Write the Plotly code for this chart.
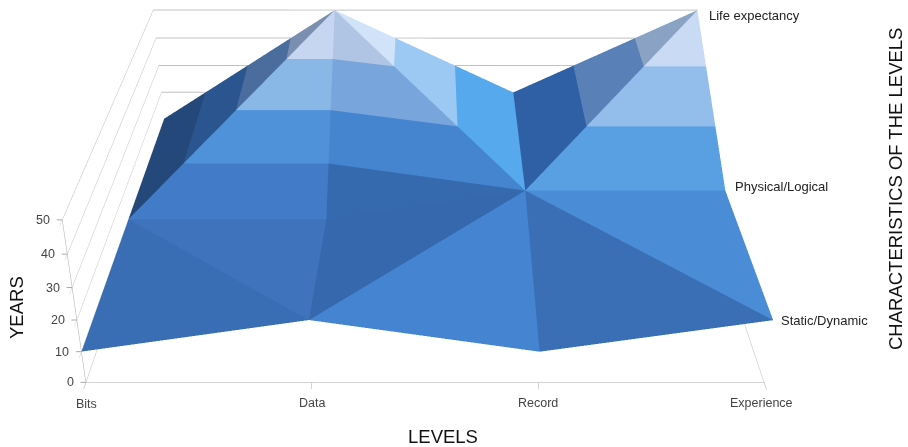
import plotly.graph_objects as go

# Grid of the surface: one row per characteristic, one column per level.
levels = ["Bits", "Data", "Record", "Experience"]
characteristics = ["Static/Dynamic", "Physical/Logical", "Life expectancy"]
static_dynamic = [10, 20, 10, 20]
physical_logical = [10, 10, 20, 20]
life_expectancy = [10, 50, 20, 50]
rows = [static_dynamic, physical_logical, life_expectancy]
year_ticks = [0, 10, 20, 30, 40, 50]
band_edges = [10, 20, 30, 40, 50]

# Facets as (column, row) corners, each with its shade per 10-year band.
facets = [
    ([(0, 0), (1, 0), (0, 1)], ["#3A6EB4"]),
    ([(1, 0), (0, 1), (1, 1)], ["#3F74BC"]),
    ([(1, 0), (2, 0), (2, 1)], ["#4484D0"]),
    ([(1, 0), (1, 1), (2, 1)], ["#3568AC"]),
    ([(2, 0), (2, 1), (3, 0)], ["#3A6FB6"]),
    ([(2, 1), (3, 1), (3, 0)], ["#4A8DD6"]),
    ([(0, 1), (0, 2), (1, 2)], ["#24487A", "#2A558F", "#4A6D9E", "#7A8FB0"]),
    ([(0, 1), (1, 1), (1, 2)], ["#427CC8", "#4F92DA", "#8AB8E6", "#C6D6F0"]),
    ([(1, 1), (1, 2), (2, 1)], ["#356AAF", "#4584CF", "#79A5DD", "#B0C5E4"]),
    ([(1, 2), (2, 2), (2, 1)], ["#55A9EC", "#55A9EC", "#9CC9F4", "#D0E3F8"]),
    ([(2, 2), (2, 1), (3, 2)], ["#2F5FA5", "#2F5FA5", "#5A80B8", "#8AA3C4"]),
    ([(2, 1), (3, 1), (3, 2)], ["#58A0E2", "#58A0E2", "#93BDEB", "#C8DAF4"]),
]


def clip_to_band(points, low, high):
    """Clip a polygon of (x, y, z) points to low <= z <= high."""
    for limit, keep_above in ((low, True), (high, False)):
        kept = []
        for n, p in enumerate(points):
            q = points[(n + 1) % len(points)]
            p_in = p[2] >= limit if keep_above else p[2] <= limit
            q_in = q[2] >= limit if keep_above else q[2] <= limit
            if p_in:
                kept.append(p)
            if p_in != q_in:
                t = (limit - p[2]) / (q[2] - p[2])
                kept.append(tuple(p[a] + t * (q[a] - p[a]) for a in range(3)))
        points = kept
        if not points:
            break
    return points


xs, ys, zs, ii, jj, kk, face_colors = [], [], [], [], [], [], []
for corners, shades in facets:
    tri = [(c, r, rows[r][c]) for c, r in corners]
    for b in range(len(band_edges) - 1):
        poly = clip_to_band(tri, band_edges[b], band_edges[b + 1])
        if len(poly) < 3:
            continue
        base = len(xs)
        for px, py, pz in poly:
            xs.append(px)
            ys.append(py)
            zs.append(pz)
        for n in range(1, len(poly) - 1):
            ii.append(base)
            jj.append(base + n)
            kk.append(base + n + 1)
            face_colors.append(shades[min(b, len(shades) - 1)])

fig = go.Figure(
    go.Mesh3d(
        x=xs, y=ys, z=zs, i=ii, j=jj, k=kk,
        facecolor=face_colors,
        flatshading=True,
        lighting=dict(ambient=1, diffuse=0, specular=0, roughness=1, fresnel=0),
        hoverinfo="skip",
        showscale=False,
    )
)

# Left edge of the floor, which the y axis line does not cover.
fig.add_trace(
    go.Scatter3d(
        x=[0, 0], y=[0, len(rows) - 1], z=[year_ticks[0], year_ticks[0]],
        mode="lines", line=dict(color="#BBBBBB", width=1), hoverinfo="skip",
    )
)

tick_font = dict(family="Liberation Sans", size=12.5, color="#444444")
label_font = dict(family="Liberation Sans", size=13, color="#222222")
title_font = dict(family="Liberation Sans", size=18.5, color="#111111")

# The scene is taller than the window so the lens stays long; only its top shows.
PAGE_W, PAGE_H = 908, 1346

series_nudges = [(6, 0), (8, 4), (10, -5)]
level_nudges = [(1, -22), (0, -20), (0, -20), (-3, -20)]

scene_labels = [
    dict(x=3, y=r, z=rows[r][3], text=characteristics[r], showarrow=False,
         xanchor="left", xshift=series_nudges[r][0], yshift=series_nudges[r][1], font=label_font)
    for r in range(len(rows))
]
scene_labels += [
    dict(x=c, y=0, z=0, text=levels[c], showarrow=False, xshift=level_nudges[c][0],
         yshift=level_nudges[c][1], font=tick_font)
    for c in range(len(levels))
]
# Year labels carry their own short tick mark, drawn as a headless arrow.
scene_labels += [
    dict(x=0, y=0, z=t, text=str(t), showarrow=True, arrowhead=0, arrowwidth=1,
         arrowcolor="#AAAAAA", ax=-19 if t else -15.5, ay=0, startstandoff=5, font=tick_font)
    for t in year_ticks
]


def page_annotation(text, x_px, y_px, angle=0):
    return dict(text=text, xref="paper", yref="paper", x=x_px / PAGE_W, y=1 - y_px / PAGE_H,
                xanchor="center", yanchor="middle", textangle=angle, showarrow=False,
                font=title_font)


fig.update_layout(
    width=PAGE_W,
    height=PAGE_H,
    margin=dict(l=0, r=0, t=0, b=0),
    paper_bgcolor="white",
    showlegend=False,
    scene=dict(
        domain=dict(x=[0, 850 / PAGE_W], y=[0, 1]),
        aspectmode="manual",
        aspectratio=dict(x=0.361, y=0.3444, z=0.0905),
        camera=dict(
            eye=dict(x=0.0005, y=-0.9452, z=0.3721),
            center=dict(x=0, y=-0.1850, z=-0.2326),
            up=dict(x=0, y=0, z=1),
            projection=dict(type="perspective"),
        ),
        xaxis=dict(
            title="", range=[0, 3], tickvals=list(range(4)), showticklabels=False,
            showgrid=False, zeroline=False, showline=True, linecolor="#AAAAAA",
            ticks="outside", ticklen=5, tickcolor="#AAAAAA",
            showbackground=False, showspikes=False,
        ),
        yaxis=dict(
            title="", range=[0, 2], tickvals=[], showgrid=False, zeroline=False,
            showline=True, linecolor="#BBBBBB", showbackground=False, showspikes=False,
        ),
        zaxis=dict(
            title="", range=[0, 50], tickvals=year_ticks, showticklabels=False, showgrid=True,
            gridcolor="#C2C2C2", zeroline=False, showline=True, linecolor="#AAAAAA",
            ticks="outside", ticklen=5, tickcolor="#AAAAAA",
            showbackground=False, showspikes=False,
        ),
        annotations=scene_labels,
    ),
    annotations=[
        page_annotation("YEARS", 17, 308, -90),
        page_annotation("LEVELS", 443, 437),
        page_annotation("CHARACTERISTICS OF THE LEVELS", 896, 189, -90),
    ],
)

fig.write_html("out.html", post_script="document.body.style.overflow = 'hidden';")
